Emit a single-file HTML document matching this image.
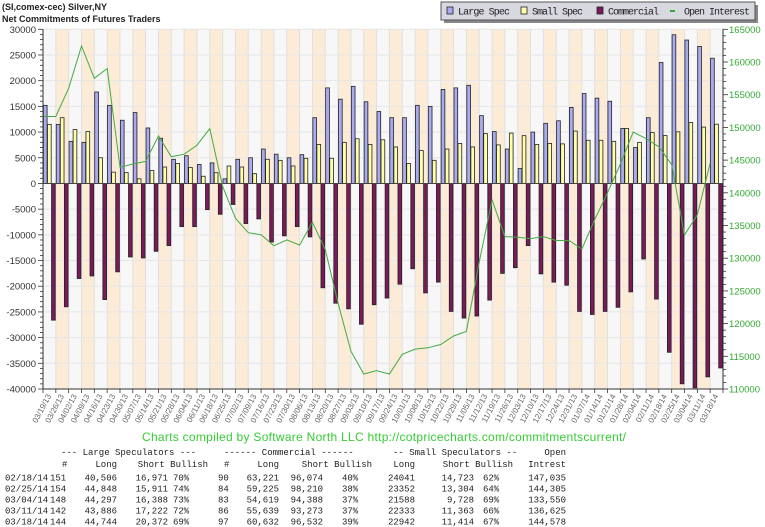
<!DOCTYPE html>
<html><head><meta charset="utf-8"><style>
html,body{margin:0;padding:0;background:#fff;width:765px;height:527px;overflow:hidden}
svg{display:block}
</style></head><body>
<svg id="chart" width="765" height="527" viewBox="0 0 765 527" xmlns="http://www.w3.org/2000/svg">
<text x="2" y="10" font-family="Liberation Sans, sans-serif" font-size="9" font-weight="bold" fill="#222">(SI,comex-cec) Silver,NY</text>
<text x="2" y="22" font-family="Liberation Sans, sans-serif" font-size="9" font-weight="bold" fill="#222">Net Commitments of Futures Traders</text>
<g id="plot"></g>
<g>
<rect x="444" y="5" width="314" height="18" fill="#888"/>
<rect x="441" y="2" width="314" height="18" fill="#d8d8e0" stroke="#555" stroke-width="1"/>
<rect x="447" y="7" width="6" height="7" fill="#aaaaee" stroke="#222" stroke-width="0.8"/>
<text x="458" y="14.5" textLength="52" font-family="Liberation Mono, monospace" font-size="10" fill="#222">Large Spec</text>
<rect x="521" y="7" width="6" height="7" fill="#ffffaa" stroke="#222" stroke-width="0.8"/>
<text x="532" y="14.5" textLength="51" font-family="Liberation Mono, monospace" font-size="10" fill="#222">Small Spec</text>
<rect x="597" y="7" width="6" height="7" fill="#7a1a5a" stroke="#222" stroke-width="0.8"/>
<text x="608" y="14.5" textLength="51" font-family="Liberation Mono, monospace" font-size="10" fill="#222">Commercial</text>
<line x1="670" y1="11" x2="675" y2="11" stroke="#33aa33" stroke-width="2"/>
<text x="684" y="14.5" textLength="66" font-family="Liberation Mono, monospace" font-size="10" fill="#222">Open Interest</text>
</g>
<text x="142" y="441" textLength="484" font-family="Liberation Sans, sans-serif" font-size="12" fill="#33cc33">Charts compiled by Software North LLC  http://cotpricecharts.com/commitmentscurrent/</text>
<g id="table" font-family="Liberation Mono, monospace" font-size="9" fill="#222"></g>
</svg>
<script>
const dates = ["03/19/13","03/26/13","04/02/13","04/09/13","04/16/13","04/23/13","04/30/13","05/07/13","05/14/13","05/21/13","05/28/13","06/04/13","06/11/13","06/18/13","06/25/13","07/02/13","07/09/13","07/16/13","07/23/13","07/30/13","08/06/13","08/13/13","08/20/13","08/27/13","09/03/13","09/10/13","09/17/13","09/24/13","10/01/13","10/08/13","10/15/13","10/22/13","10/29/13","11/05/13","11/12/13","11/19/13","11/26/13","12/03/13","12/10/13","12/17/13","12/24/13","12/31/13","01/07/14","01/14/14","01/21/14","01/28/14","02/04/14","02/11/14","02/18/14","02/25/14","03/04/14","03/11/14","03/18/14"];
const largeSpec = [15200,11500,8200,8000,17800,15200,12300,13800,10800,8800,4700,5400,3700,4000,900,4700,5000,6700,5700,5000,5600,12800,18600,16400,18900,15900,14000,12800,12800,15200,15000,18300,18600,19100,13200,10100,6700,2900,10000,11700,12200,14800,17500,16600,16000,10700,7000,12800,23535,28937,27909,26664,24372];
const smallSpec = [11500,12800,10500,10100,5000,2200,2100,900,2500,3200,3900,3100,1400,2100,3400,3200,1900,4700,4500,3400,4900,7600,4900,8000,8700,7600,8500,7100,3900,6400,4500,6700,7800,7100,9700,7500,9800,9300,7600,7800,7700,10200,8400,8400,8200,10700,8000,9900,9318,10048,11860,10970,11528];
const commercial = [-26600,-24000,-18500,-18000,-22600,-17200,-14300,-14500,-13200,-12100,-8400,-8400,-5100,-6000,-4100,-7800,-6900,-11400,-10200,-8400,-10400,-20300,-23300,-24400,-27400,-23600,-22300,-19600,-16600,-21300,-19200,-24900,-26200,-25800,-22700,-17500,-16400,-12100,-17600,-19200,-19800,-24900,-25500,-24900,-24100,-21100,-14700,-22500,-32853,-38985,-39769,-37634,-35900];
const openInterest = [151660,151660,156000,162450,157500,159000,143900,144400,144800,148700,145500,145900,147300,149800,141000,136100,133900,133600,131900,132800,132000,135500,131300,123100,115800,112300,112800,112300,115300,116100,116300,116800,118100,118800,129400,138900,133300,133200,133000,133300,132700,132700,131400,135900,140000,144400,149300,148300,147035,144305,133550,136625,144578];
const leftTicks = [30000,25000,20000,15000,10000,5000,0,-5000,-10000,-15000,-20000,-25000,-30000,-35000,-40000];
const rightTicks = [165000,160000,155000,150000,145000,140000,135000,130000,125000,120000,115000,110000];
const tableRows = [
 ["02/18/14","151","40,506","16,971","70%","90","63,221","96,074","40%","24041","14,723","62%","147,035"],
 ["02/25/14","154","44,848","15,911","74%","84","59,225","98,210","38%","23352","13,304","64%","144,305"],
 ["03/04/14","148","44,297","16,388","73%","83","54,619","94,388","37%","21588","9,728","69%","133,550"],
 ["03/11/14","142","43,886","17,222","72%","86","55,639","93,273","37%","22333","11,363","66%","136,625"],
 ["03/18/14","144","44,744","20,372","69%","97","60,632","96,532","39%","22942","11,414","67%","144,578"]
];

const NS="http://www.w3.org/2000/svg";
const X0=43, X1=723, YT=29.3, YB=389;
const n = dates.length, bw=(X1-X0)/n;
const lMax=30000,lMin=-40000,rMax=165000,rMin=110000;
function yL(v){return YT+(lMax-v)/(lMax-lMin)*(YB-YT);}
function yR(v){return YT+(rMax-v)/(rMax-rMin)*(YB-YT);}
function xB(i){return X0+i*bw;}
const plot=document.getElementById('plot');
function mk(tag,attrs,parent){const e=document.createElementNS(NS,tag);for(const k in attrs)e.setAttribute(k,attrs[k]);(parent||plot).appendChild(e);return e;}

for(let i=0;i<n;i++){
  const r=mk('rect',{x:xB(i),y:YT,width:bw,height:YB-YT,fill:i%2?'#fcebd7':'#f7f7f7'});
  
  
}
for(let i=1;i<n;i++){
  const l=mk('line',{x1:xB(i),x2:xB(i),y1:YT,y2:YB,stroke:'#e0e0e0','stroke-width':1});
  
  
}
leftTicks.forEach(v=>{
  const l=mk('line',{x1:X0,x2:X1,y1:yL(v),y2:yL(v),stroke:'#e6e6e6','stroke-width':1});
  
  
});
const bwid=bw*0.29;
for(let i=0;i<n;i++){
  const series=[[largeSpec[i],'#aaaaee','bar-large-spec'],[smallSpec[i],'#ffffaa','bar-small-spec'],[commercial[i],'#7a1a5a','bar-commercial']];
  series.forEach((s,k)=>{
    const v=s[0], y0=yL(0), y1=yL(v);
    const r=mk('rect',{x:xB(i)+0.4+k*(bwid+0.35),y:Math.min(y0,y1),width:bwid,height:Math.abs(y1-y0),fill:s[1],stroke:'#222','stroke-width':0.8});
    
    
  });
}
const zl=mk('line',{x1:X0,x2:X1,y1:yL(0),y2:yL(0),stroke:'#444','stroke-width':1});


const pts=openInterest.map((v,i)=>xB(i).toFixed(1)+','+yR(v).toFixed(1)).join(' ');
const oi=mk('polyline',{points:pts,fill:'none',stroke:'#44aa44','stroke-width':1});


const la=mk('line',{x1:X0,x2:X0,y1:YT,y2:YB,stroke:'#333','stroke-width':1});


const ra=mk('line',{x1:X1,x2:X1,y1:YT,y2:YB,stroke:'#333','stroke-width':1});


const xa=mk('line',{x1:X0,x2:X1,y1:YB,y2:YB,stroke:'#333','stroke-width':1});


for(let v=lMin;v<=lMax;v+=1000){
  const major=v%5000===0;
  mk('line',{x1:X0-(major?5:3),x2:X0,y1:yL(v),y2:yL(v),stroke:'#333','stroke-width':0.8});
}
for(let v=rMin;v<=rMax;v+=1000){
  const major=v%5000===0;
  mk('line',{x1:X1,x2:X1+(major?5:3),y1:yR(v),y2:yR(v),stroke:'#333','stroke-width':0.8});
}
leftTicks.forEach(v=>{
  const t=mk('text',{x:X0-7,y:yL(v)+3.5,'text-anchor':'end','font-family':'Liberation Sans, sans-serif','font-size':9.5,fill:'#333'});
  t.textContent=v<0?'-'+Math.abs(v):String(v);
  
  
});
rightTicks.forEach(v=>{
  const t=mk('text',{x:X1+6,y:yR(v)+3.5,'font-family':'Liberation Sans, sans-serif','font-size':9.5,fill:'#33aa33'});
  t.textContent=String(v);
  
  
});
for(let i=0;i<=n;i++){
  mk('line',{x1:xB(i),x2:xB(i),y1:YB,y2:YB+4,stroke:'#333','stroke-width':0.8});
}
dates.forEach((d,i)=>{
  const x=xB(i)+bw*0.5+2, y=YB+7;
  const t=mk('text',{x:x,y:y,'text-anchor':'end','font-family':'Liberation Sans, sans-serif','font-size':8,fill:'#666',transform:'rotate(-62 '+x+' '+y+')'});
  t.textContent=d;
  
  
});

const tbl=document.getElementById('table');
function tx(s,x,y,anchor){const t=mk('text',{x:x,y:y,'text-anchor':anchor||'start'},tbl);t.textContent=s;return t;}
tx('--- Large Speculators ---',61,455);
tx('------ Commercial ------',224,455);
tx('-- Small Speculators --',393,455);
tx('Open',566,455,'end');
tx('#',62,467);tx('Long',117,467,'end');tx('Short Bullish',208,467,'end');
tx('#',224,467);tx('Long',279,467,'end');tx('Short Bullish',372,467,'end');
tx('Long',415,467,'end');tx('Short Bullish',513,467,'end');tx('Intrest',566,467,'end');
const colX=[5,50,117,168,173,218,279,323,342,415,474,483,566];
const colA=['start','start','end','end','start','start','end','end','start','end','end','start','end'];
tableRows.forEach((row,r)=>{
  const y=480.5+r*11;
  row.forEach((c,k)=>{ tx(c,colX[k],y,colA[k]); });
});
</script>
</body></html>
